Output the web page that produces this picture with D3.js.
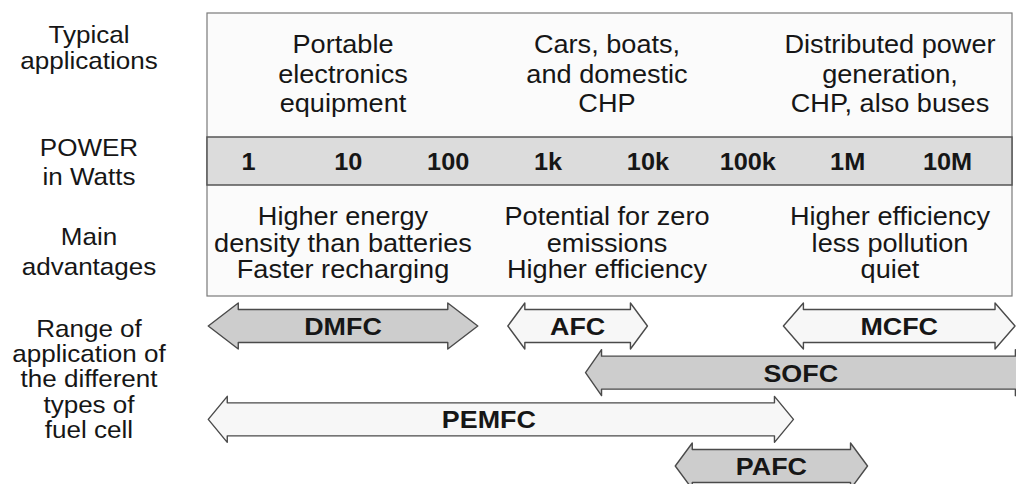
<!DOCTYPE html>
<html>
<head>
<meta charset="utf-8">
<script src="https://cdn.jsdelivr.net/npm/d3@7"></script>
<style>
  body { margin: 0; background: #fff; }
  svg { display: block; font-family: "Liberation Sans", Arial, sans-serif; }
</style>
</head>
<body>
<script>
// power axis
const powerTicks = [1, 10, 100, 1e3, 1e4, 1e5, 1e6, 1e7];
const tickLabels = ["1", "10", "100", "1k", "10k", "100k", "1M", "10M"];

// fuel cell ranges, in watts
const fuelCells = ["DMFC", "AFC", "MCFC", "SOFC", "PEMFC", "PAFC"];
const minWatts = [0.4, 400, 2.3e5, 2400, 0.4, 1.9e4];
const maxWatts = [200, 1e4, 4.8e7, 7e7, 2.9e5, 1.6e6];

// row texts
const rowLabels = [
  ["Typical", "applications"],
  ["POWER", "in Watts"],
  ["Main", "advantages"],
  ["Range of", "application of", "the different", "types of", "fuel cell"]
];
const applications = [
  ["Portable", "electronics", "equipment"],
  ["Cars, boats,", "and domestic", "CHP"],
  ["Distributed power", "generation,", "CHP, also buses"]
];
const advantages = [
  ["Higher energy", "density than batteries", "Faster recharging"],
  ["Potential for zero", "emissions", "Higher efficiency"],
  ["Higher efficiency", "less pollution", "quiet"]
];

// layout / style (not data)
const W = 1016, H = 484;
const lane = {DMFC: 0, AFC: 0, MCFC: 0, SOFC: 1, PEMFC: 2, PAFC: 3};
const shaded = {DMFC: true, AFC: false, MCFC: false, SOFC: true, PEMFC: false, PAFC: true};
const headLen = {DMFC: 30, AFC: 17, MCFC: 20, SOFC: 16, PEMFC: 19, PAFC: 17};
const labelShift = {PEMFC: -12};
const sx = 1.085;
const ink = "#161616";

const svg = d3.select("body").append("svg")
  .attr("width", W)
  .attr("height", H);

const x = d3.scaleLog()
  .domain([1, 1e7])
  .range([248, 947]);

const laneY = d3.scaleLinear().domain([0, 3]).range([326, 466]);

const boxL = 207, boxR = 1012, boxT = 13, bandT = 137, bandB = 185, boxB = 296;

// panels
svg.append("rect")
  .attr("x", boxL).attr("y", boxT)
  .attr("width", boxR - boxL).attr("height", boxB - boxT)
  .attr("fill", "#fbfbfb")
  .attr("stroke", "#7a7a7a").attr("stroke-width", 1.2);

svg.append("rect")
  .attr("x", boxL).attr("y", bandT)
  .attr("width", boxR - boxL).attr("height", bandB - bandT)
  .attr("fill", "#dcdcdc")
  .attr("stroke", "#555").attr("stroke-width", 1.5);

function stretchedText(g, str, cx, cy, size, weight, stretch) {
  g.append("text")
    .attr("transform", `translate(${cx},${cy}) scale(${stretch},1)`)
    .attr("text-anchor", "middle")
    .attr("font-size", size)
    .attr("font-weight", weight || "normal")
    .attr("fill", ink)
    .text(str);
}

// left labels
const leftG = svg.append("g");
const leftBase = [43, 156, 245, 337];
const leftStep = [26, 29, 30, 25.2];
rowLabels.forEach((lines, i) => {
  lines.forEach((t, j) => stretchedText(leftG, t, 89, leftBase[i] + j * leftStep[i], 24, "normal", sx));
});

// panel texts
const colX = [343, 607, 890];
const panelG = svg.append("g");
applications.forEach((lines, i) => {
  lines.forEach((t, j) => stretchedText(panelG, t, colX[i], 53 + j * 29.5, 25, "normal", sx));
});
advantages.forEach((lines, i) => {
  lines.forEach((t, j) => stretchedText(panelG, t, colX[i], 225 + j * 26.5, 25, "normal", sx));
});

// power axis
const axis = d3.axisBottom(x)
  .tickValues(powerTicks)
  .tickFormat((d, i) => tickLabels[i])
  .tickSize(0);

const axisG = svg.append("g").call(axis);
axisG.select(".domain").remove();
axisG.selectAll("text")
  .attr("y", 0).attr("dy", null)
  .attr("transform", "translate(0,170) scale(1.1,1)")
  .attr("font-family", "Liberation Sans, Arial, sans-serif")
  .attr("font-size", 23)
  .attr("font-weight", "bold")
  .attr("fill", ink);

// arrows
const hh = 23, bh = 16.5;
const cells = fuelCells.map((name, i) => ({name, lo: minWatts[i], hi: maxWatts[i]}));

function arrowPath(d) {
  const x0 = x(d.lo), x1 = x(d.hi), yc = laneY(lane[d.name]), hl = headLen[d.name];
  const pts = [
    [x0, yc], [x0 + hl, yc - hh], [x0 + hl, yc - bh], [x1 - hl, yc - bh], [x1 - hl, yc - hh],
    [x1, yc], [x1 - hl, yc + hh], [x1 - hl, yc + bh], [x0 + hl, yc + bh], [x0 + hl, yc + hh]
  ];
  return d3.line()(pts) + "Z";
}

const arrowG = svg.append("g").selectAll("g")
  .data(cells)
  .enter()
  .append("g");

arrowG.append("path")
  .attr("d", arrowPath)
  .attr("fill", d => shaded[d.name] ? "#cdcdcd" : "#f7f7f7")
  .attr("stroke", "#4a4a4a")
  .attr("stroke-width", 1.4)
  .attr("stroke-linejoin", "round");

// labels sit in the middle of the visible part of each arrow
arrowG.each(function(d) {
  const cx = (x(d.lo) + Math.min(x(d.hi), W)) / 2 + (labelShift[d.name] || 0);
  stretchedText(d3.select(this), d.name, cx, laneY(lane[d.name]) + 9, 24, "bold", 1.12);
});
</script>
</body>
</html>
